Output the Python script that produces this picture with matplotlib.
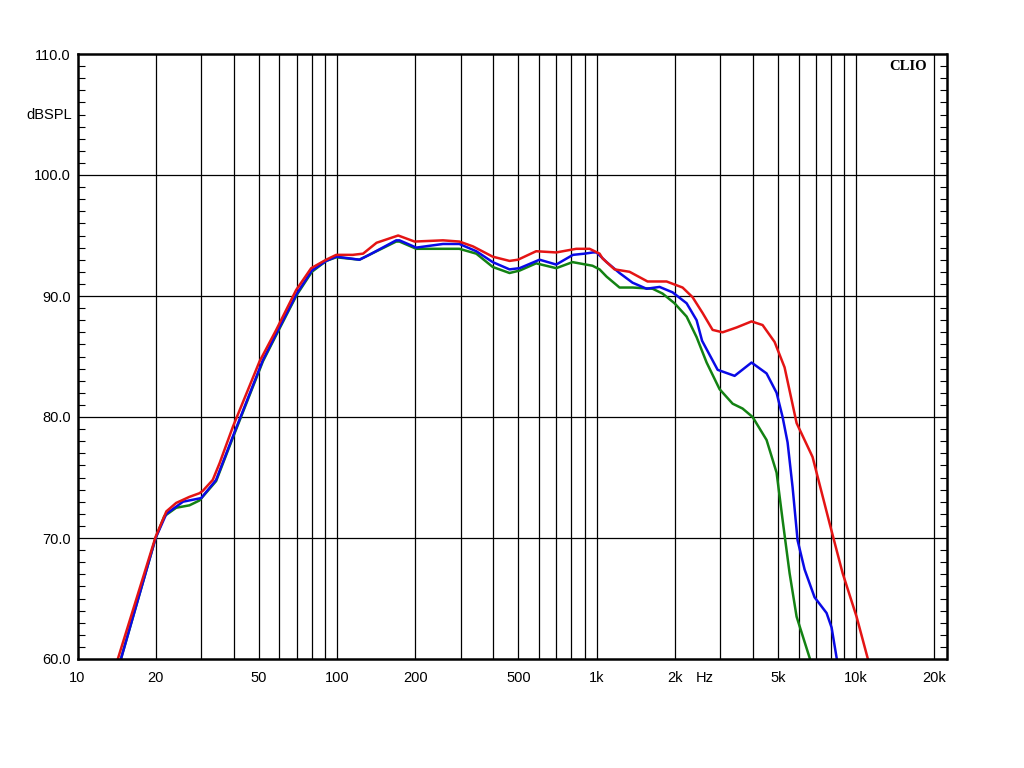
import matplotlib
matplotlib.use("Agg")
import matplotlib.pyplot as plt
from matplotlib.ticker import FixedLocator, NullFormatter, NullLocator

# ---- data (frequency in Hz, level in dBSPL) ----
red_f = [13, 14.3, 20, 22.0, 24.0, 27.0, 29.5, 30.4, 33.2, 35.3, 39.7, 50.3, 58.3, 69.6,
         79.5, 90.8, 99.3, 115, 126, 142, 172, 199, 256, 296, 334, 398, 462, 498, 585,
         699, 835, 940, 1027, 1055, 1173, 1340, 1572, 1861, 2145, 2344, 2561, 2799, 3059,
         3464, 3955, 4362, 4853, 5302, 5898, 6795, 7906, 8872, 10040, 11070, 12000]
red_db = [57.2, 60.0, 70.1, 72.2, 72.9, 73.4, 73.7, 73.9, 74.8, 76.2, 79.2, 84.6, 87.2, 90.5,
          92.3, 93.0, 93.4, 93.4, 93.5, 94.4, 95.0, 94.5, 94.6, 94.5, 94.1, 93.25, 92.9, 93.0, 93.7,
          93.6, 93.9, 93.9, 93.5, 93.1, 92.2, 92.0, 91.2, 91.2, 90.7, 89.9, 88.6, 87.2, 87.0,
          87.4, 87.9, 87.6, 86.2, 84.1, 79.5, 76.7, 71.2, 67.1, 63.5, 60.1, 57.0]

blue_f = [13, 14.7, 20, 22.0, 25.5, 29.97, 34.2, 39.7, 51.8, 60, 70, 80, 90.8, 99.3, 122,
          133, 169, 174, 202, 256, 296, 344, 398, 462, 505, 603, 699, 811, 899, 968, 1000,
          1093, 1226, 1376, 1558, 1749, 1964, 2223, 2429, 2550, 2927, 3403, 3955, 4519, 4939,
          5209, 5445, 5692, 5951, 6332, 6918, 7696, 8046, 8412, 8700]
blue_db = [55.5, 60.0, 70.0, 72.0, 73.0, 73.3, 74.8, 78.4, 84.7, 87.4, 90.2, 92.1, 92.9, 93.25, 93.0,
           93.4, 94.6, 94.6, 94.0, 94.3, 94.3, 93.7, 92.8, 92.2, 92.3, 93.0, 92.6, 93.4, 93.5, 93.6, 93.6,
           92.8, 91.9, 91.1, 90.6, 90.75, 90.3, 89.4, 88.0, 86.3, 83.9, 83.4, 84.5, 83.6, 82.0,
           80.0, 77.9, 74.2, 69.8, 67.4, 65.1, 63.8, 62.6, 60.1, 57.0]

green_f = [13, 14.7, 20, 21.6, 24.0, 27.0, 29.5, 34.2, 39.7, 51.8, 60, 70, 80, 90.8, 99.3,
           122, 133, 169, 174, 202, 256, 296, 344, 398, 462, 505, 585, 699, 808, 965, 1027,
           1093, 1226, 1376, 1644, 1796, 1997, 2223, 2429, 2655, 2978, 3344, 3652, 3993, 4519,
           4939, 5209, 5542, 5898, 6620, 7000]
green_db = [55.5, 60.0, 70.0, 71.8, 72.5, 72.7, 73.1, 74.7, 78.3, 84.6, 87.3, 90.1, 92.0, 92.9, 93.2,
            93.0, 93.4, 94.5, 94.5, 93.9, 93.9, 93.9, 93.5, 92.4, 91.9, 92.1, 92.7, 92.3, 92.8, 92.5, 92.2,
            91.6, 90.7, 90.7, 90.6, 90.2, 89.4, 88.3, 86.6, 84.5, 82.3, 81.1, 80.7, 80.0, 78.1,
            75.4, 71.5, 67.1, 63.5, 60.1, 58.0]

x_tick_vals = [10, 20, 50, 100, 200, 500, 1000, 2000, 5000, 10000, 20000]
x_tick_labels = ["10", "20", "50", "100", "200", "500", "1k", "2k", "5k", "10k", "20k"]
x_grid_vals = ([20, 30, 40, 50, 60, 70, 80, 90, 100] +
               [200, 300, 400, 500, 600, 700, 800, 900, 1000] +
               [2000, 3000, 4000, 5000, 6000, 7000, 8000, 9000, 10000, 20000])
y_tick_vals = [60, 70, 80, 90, 100, 110]
y_tick_labels = ["60.0", "70.0", "80.0", "90.0", "100.0", "110.0"]

# ---- figure ----
plt.rcParams['font.family'] = ['Liberation Sans', 'DejaVu Sans']
fig = plt.figure(figsize=(10.24, 7.68), dpi=100)
fig.patch.set_facecolor("white")
ax = fig.add_axes([77.5 / 1024, 1 - 659 / 768, (946.5 - 77.5) / 1024, (659 - 54) / 768])

ax.set_xscale("log")
ax.set_xlim(10, 22300)
ax.set_ylim(60, 110)

for xv in x_grid_vals:
    ax.axvline(xv, color="black", lw=0.9, zorder=1)
for yv in [70, 80, 90, 100]:
    ax.axhline(yv, color="black", lw=0.9, zorder=1)

ax.plot(green_f, green_db, color="#138213", lw=1.8, zorder=3, solid_joinstyle="round")
ax.plot(blue_f, blue_db, color="#0a0ae6", lw=1.8, zorder=4, solid_joinstyle="round")
ax.plot(red_f, red_db, color="#e41414", lw=1.8, zorder=5, solid_joinstyle="round")

ax.xaxis.set_major_locator(FixedLocator(x_tick_vals))
ax.set_xticklabels(x_tick_labels, fontsize=10.5)
ax.xaxis.set_minor_locator(NullLocator())
ax.xaxis.set_minor_formatter(NullFormatter())
ax.tick_params(axis="x", which="major", length=0, pad=9)

ax.yaxis.set_major_locator(FixedLocator(y_tick_vals))
ax.set_yticklabels(y_tick_labels, fontsize=10.5)
ax.yaxis.set_minor_locator(FixedLocator([v for v in range(61, 110) if v % 10 != 0]))
ax.tick_params(axis="y", which="major", length=0, pad=5)
ax.tick_params(axis="y", which="minor", direction="in", length=5, width=0.8,
               left=True, right=True, color="black")

for sp in ax.spines.values():
    sp.set_linewidth(1.8)
    sp.set_color("black")
    sp.set_zorder(6)

fig.text(72 / 1024, 1 - 115 / 768, "dBSPL", ha="right", va="center", fontsize=10.5)
fig.text(705 / 1024, 1 - 678 / 768, "Hz", ha="center", va="center", fontsize=10.5)
fig.text(927 / 1024, 1 - 66 / 768, "CLIO", ha="right", va="center", fontsize=10.5,
         fontweight="bold", family=["Liberation Serif", "DejaVu Serif"])

fig.savefig("out.png", dpi=100, facecolor="white")
